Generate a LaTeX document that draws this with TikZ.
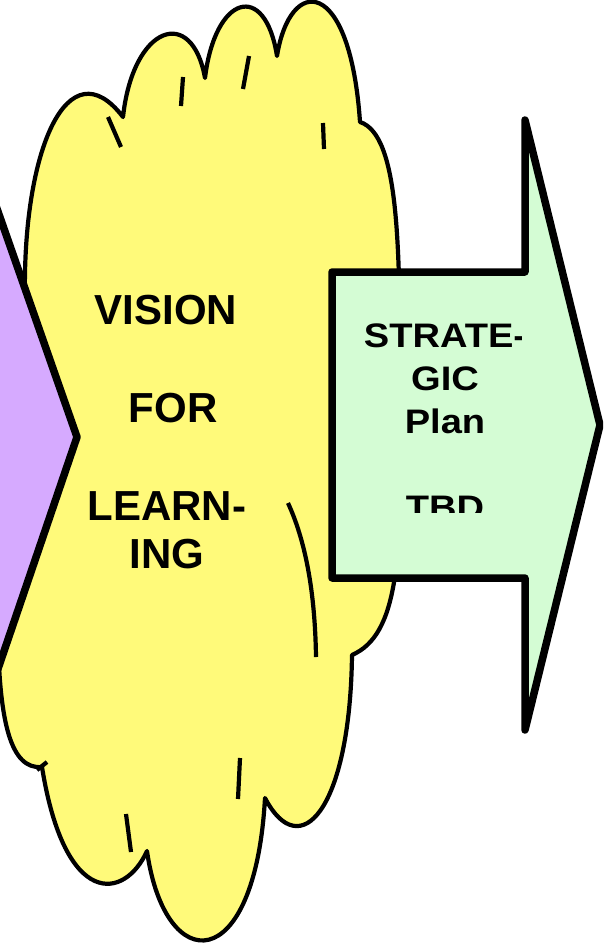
\documentclass[tikz,border=0pt]{standalone}
\usepackage{fontspec}
\setmainfont{Liberation Sans}
\usepackage{tikz}

\definecolor{visionyellow}{RGB}{255,250,122}
\definecolor{plangreen}{RGB}{212,252,212}
\definecolor{prevpurple}{RGB}{214,170,255}

\begin{document}
\begin{tikzpicture}[x=1pt, y=-1pt,
  every node/.style={inner sep=0pt, anchor=base},
  cloudline/.style={draw=black, line width=4.2pt, line join=round},
  arrowline/.style={draw=black, line width=7.5pt, line join=round},
  bigtext/.style={font=\bfseries\fontsize{42}{48}\selectfont},
  plantext/.style={font=\bfseries\fontsize{34}{40}\selectfont}]
  \clip (0,0) rectangle (603,943);

  % Cloud
  \draw[cloudline, fill=visionyellow]
    (25,300) .. controls (22,150) and (68,45) .. (123,117)
    .. controls (133,25) and (192,5) .. (205,78)
    .. controls (215,-5) and (265,-20) .. (277,56)
    .. controls (290,-25) and (350,-25) .. (360,122)
    .. controls (400,135) and (400,250) .. (400,400)
    .. controls (403,560) and (398,635) .. (352,655)
    .. controls (350,810) and (300,865) .. (265,798)
    .. controls (255,978) and (165,978) .. (147,851)
    .. controls (125,900) and (65,910) .. (42,767)
    .. controls (10,770) and (0,720) .. (-2,640)
    -- cycle;

  % Cloud ticks
  \draw[cloudline] (108,117) -- (121,147);
  \draw[cloudline] (183,77) -- (181,106);
  \draw[cloudline] (249,56) -- (243,89);
  \draw[cloudline] (323,123) -- (324,149);
  \draw[cloudline] (288,503) .. controls (305,540) and (315,590) .. (316,657);
  \draw[cloudline] (240,758) -- (238,799);
  \draw[cloudline] (126,814) -- (131,852);
  \draw[cloudline] (37,770) -- (47,762);

  % Arrows
  \draw[arrowline, fill=prevpurple] (-60,46) -- (77,437) -- (-60,839) -- cycle;
  \draw[arrowline, fill=plangreen] (332,272) -- (525,272) -- (525,120) -- (600,425)
    -- (525,730) -- (525,578) -- (332,578) -- cycle;

  % Vision labels
  \node[bigtext] (vision) at (166,324) {VISION};
  \node[bigtext] (for) at (173,422) {FOR};
  \node[bigtext] (learn) at (167,520) {LEARN-};
  \node[bigtext] (ing) at (167,568) {ING};

  % Plan labels
  \begin{scope}
    \clip (336,276) rectangle (521,512);
    \node[plantext] (strate) at (445,347) {\scalebox{1.12}[1]{STRATE-}};
    \node[plantext] (gic) at (445,390) {\scalebox{1.12}[1]{GIC}};
    \node[plantext] (plan) at (445,433) {\scalebox{1.12}[1]{Plan}};
    \node[plantext] (tbd) at (445,519) {\scalebox{1.12}[1]{TBD}};
  \end{scope}
\end{tikzpicture}
\end{document}
